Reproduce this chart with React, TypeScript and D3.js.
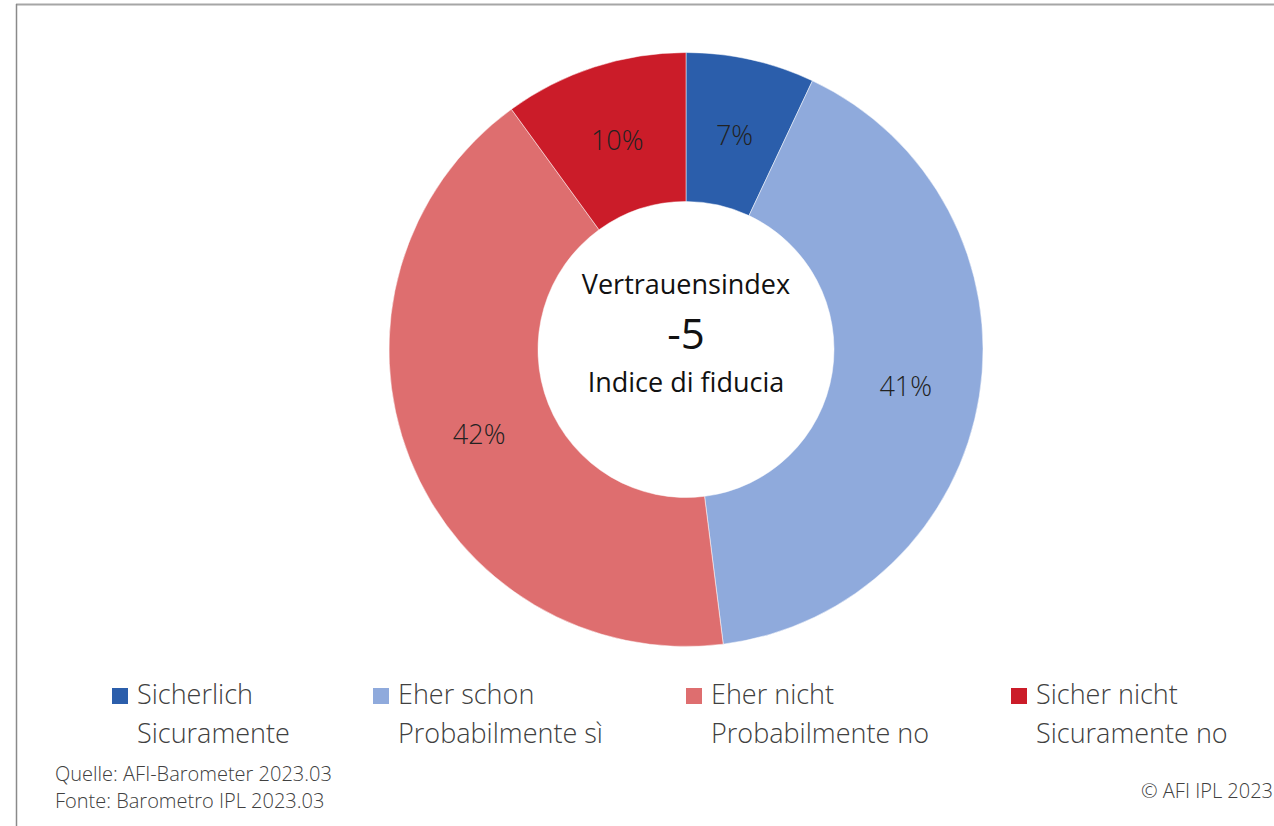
import { useEffect, useRef } from 'react';
import * as d3 from 'd3';

const categories = ['Sicherlich', 'Eher schon', 'Eher nicht', 'Sicher nicht'];
const categoriesIt = ['Sicuramente', 'Probabilmente sì', 'Probabilmente no', 'Sicuramente no'];
const shares = [7, 41, 42, 10];
const colors = ['#2b5eab', '#8faadc', '#de6e6f', '#cb1c29'];
const indexValue = -5;

const W = 1274;
const H = 826;

const App = () => {
  const svgRef = useRef<SVGSVGElement>(null);

  useEffect(() => {
    const svg = d3.select(svgRef.current);
    svg.selectAll('*').remove();

    const font = '"Open Sans", "Noto Sans", sans-serif';
    const cx = 686;
    const cy = 349.5;
    const outerR = 297;
    const innerR = 148;

    // frame lines (top and left)
    svg.append('line')
      .attr('x1', 16).attr('x2', W).attr('y1', 4.5).attr('y2', 4.5)
      .attr('stroke', '#a6a6a6').attr('stroke-width', 2);
    svg.append('line')
      .attr('x1', 16.5).attr('x2', 16.5).attr('y1', 4).attr('y2', H)
      .attr('stroke', '#8a8a8a').attr('stroke-width', 1.5);

    const pieData = shares.map((v, i) => ({ label: categories[i], value: v, i }));
    const pie = d3.pie<{ label: string; value: number; i: number }>()
      .value(d => d.value)
      .sort(null);
    const arcs = pie(pieData);
    const arc = d3.arc<d3.PieArcDatum<{ label: string; value: number; i: number }>>()
      .innerRadius(innerR)
      .outerRadius(outerR);

    const g = svg.append('g').attr('transform', `translate(${cx},${cy})`);

    g.selectAll('path.slice')
      .data(arcs)
      .enter()
      .append('path')
      .attr('class', 'slice')
      .attr('d', arc)
      .attr('fill', d => colors[d.data.i])
      .attr('stroke', '#fff')
      .attr('stroke-width', 0.5);

    g.selectAll('text.pct')
      .data(arcs)
      .enter()
      .append('text')
      .attr('class', 'pct')
      .attr('transform', d => `translate(${arc.centroid(d)})`)
      .attr('text-anchor', 'middle')
      .attr('dy', '0.45em')
      .style('font-family', font)
      .style('font-size', '27px')
      .style('font-weight', 300)
      .style('fill', '#222')
      .text(d => `${d.data.value}%`);

    // centre text
    g.append('text')
      .attr('y', -65).attr('dy', '0.35em')
      .attr('text-anchor', 'middle')
      .style('font-family', font).style('font-size', '27px').style('fill', '#111')
      .text('Vertrauensindex');
    g.append('text')
      .attr('y', -15).attr('dy', '0.35em')
      .attr('text-anchor', 'middle')
      .style('font-family', font).style('font-size', '42px').style('fill', '#111')
      .text(String(indexValue));
    g.append('text')
      .attr('y', 33).attr('dy', '0.35em')
      .attr('text-anchor', 'middle')
      .style('font-family', font).style('font-size', '27px').style('fill', '#111')
      .text('Indice di fiducia');

    // legend
    const colX = d3.scaleOrdinal<string, number>()
      .domain(categories)
      .range([112, 373, 686, 1011]);
    const leg = svg.selectAll('g.leg')
      .data(categories)
      .enter()
      .append('g')
      .attr('class', 'leg')
      .attr('transform', d => `translate(${colX(d)},0)`);
    leg.append('rect')
      .attr('x', 0).attr('y', 688)
      .attr('width', 16).attr('height', 16)
      .attr('fill', (d, i) => colors[i]);
    leg.append('text')
      .attr('x', 25).attr('y', 704)
      .style('font-family', font).style('font-size', '27px').style('font-weight', 300)
      .style('fill', '#404040')
      .text(d => d);
    leg.append('text')
      .attr('x', 25).attr('y', 743)
      .style('font-family', font).style('font-size', '27px').style('font-weight', 300)
      .style('fill', '#404040')
      .text((d, i) => categoriesIt[i]);

    // source notes
    svg.append('text')
      .attr('x', 55).attr('y', 781)
      .style('font-family', font).style('font-size', '20px').style('font-weight', 300)
      .style('fill', '#404040')
      .text('Quelle: AFI-Barometer 2023.03');
    svg.append('text')
      .attr('x', 55).attr('y', 808)
      .style('font-family', font).style('font-size', '20px').style('font-weight', 300)
      .style('fill', '#404040')
      .text('Fonte: Barometro IPL 2023.03');
    svg.append('text')
      .attr('x', 1273).attr('y', 798)
      .attr('text-anchor', 'end')
      .style('font-family', font).style('font-size', '20px').style('font-weight', 300)
      .style('fill', '#404040')
      .text('© AFI IPL 2023');
  }, []);

  return (
    <svg
      ref={svgRef}
      width={W}
      height={H}
      style={{ position: 'absolute', left: 0, top: 0, background: '#fff' }}
    />
  );
};

export default App;
